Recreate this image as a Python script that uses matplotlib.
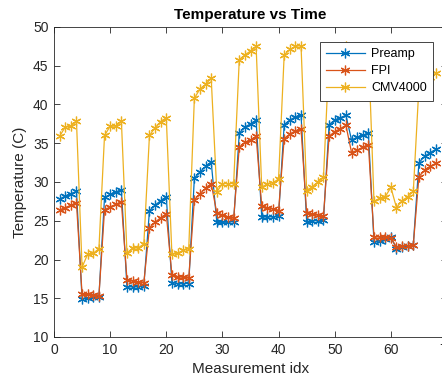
import matplotlib.pyplot as plt

plt.rcParams['font.family'] = ['Liberation Sans', 'DejaVu Sans']

# measurement index 1..68
idx = list(range(1, 69))

preamp = [27.8, 28.2, 28.5, 28.8, 14.9, 15.0, 15.1, 15.2, 28.0, 28.4, 28.7, 29.0,
          16.4, 16.5, 16.5, 16.6, 26.3, 27.0, 27.6, 28.1, 17.0, 16.9, 16.9, 16.9,
          30.5, 31.3, 32.0, 32.6, 24.8, 24.8, 24.8, 24.9, 36.3, 37.1, 37.5, 38.0,
          25.5, 25.5, 25.5, 25.6, 37.4, 38.0, 38.4, 38.7, 24.9, 25.0, 25.0, 25.1,
          37.4, 38.0, 38.3, 38.6, 35.4, 35.8, 36.0, 36.3, 22.2, 22.4, 22.7, 22.9,
          21.4, 21.6, 21.7, 21.9, 32.5, 33.3, 33.8, 34.2]

fpi = [26.4, 26.7, 27.0, 27.3, 15.5, 15.5, 15.4, 15.3, 26.4, 26.8, 27.1, 27.4,
       17.4, 17.2, 17.1, 17.0, 24.1, 24.8, 25.4, 25.9, 18.0, 17.8, 17.7, 17.6,
       27.7, 28.5, 29.2, 29.8, 26.0, 25.7, 25.5, 25.3, 34.5, 35.1, 35.4, 35.9,
       26.9, 26.7, 26.5, 26.3, 35.6, 36.2, 36.6, 36.9, 26.0, 25.9, 25.7, 25.6,
       35.9, 36.5, 36.9, 37.3, 33.8, 34.1, 34.5, 34.8, 22.9, 22.9, 22.9, 22.8,
       21.6, 21.7, 21.8, 21.9, 30.7, 31.5, 32.0, 32.4]

cmv4000 = [35.9, 37.1, 37.2, 37.9, 19.0, 20.7, 20.8, 21.4, 36.0, 37.2, 37.2, 37.9,
           20.8, 21.5, 21.5, 22.0, 36.0, 37.0, 37.8, 38.3, 20.7, 20.8, 21.2, 21.4,
           40.8, 42.0, 42.6, 43.4, 28.7, 29.8, 29.8, 29.8, 45.8, 46.4, 46.9, 47.5,
           29.3, 29.8, 29.9, 30.4, 46.4, 47.1, 47.5, 47.6, 28.9, 29.4, 30.0, 30.6,
           46.3, 46.9, 47.3, 47.6, 46.0, 46.5, 46.9, 47.2, 27.5, 27.9, 28.1, 29.3,
           26.7, 27.6, 28.1, 28.8, 42.3, 43.0, 43.6, 44.0]

names = ['Preamp', 'FPI', 'CMV4000']
colors = ['#0072BD', '#D95319', '#EDB120']

fig = plt.figure(figsize=(4.42, 3.83), dpi=100)
# axes runs a bit past the right edge, like the cropped original
ax = fig.add_axes([54 / 442, 46 / 383, 393 / 442, 310 / 383])

for ys, name, c in zip([preamp, fpi, cmv4000], names, colors):
    ax.plot(idx, ys, color=c, linewidth=0.9, marker=(6, 2, 0),
            markersize=7, markeredgewidth=0.9, label=name)

ax.set_xlim(0, 70)
ax.set_ylim(10, 50)
ax.set_xticks(range(0, 71, 10))
ax.set_yticks(range(10, 51, 5))

dark = '#262626'
for s in ax.spines.values():
    s.set_color(dark)
    s.set_linewidth(0.6)
ax.tick_params(direction='in', top=True, right=True, length=4, width=0.6,
               colors=dark, labelsize=10, pad=4)

ax.set_title('Temperature vs Time', fontsize=11, fontweight='bold', pad=6)
ax.set_xlabel('Measurement idx', fontsize=11, color=dark)
ax.set_ylabel('Temperature (C)', fontsize=11, color=dark)

leg = ax.legend(loc='upper right', bbox_to_anchor=(433 / 442, 1 - 42 / 383),
                bbox_transform=fig.transFigure, borderaxespad=0, fontsize=9,
                fancybox=False, framealpha=1, edgecolor=dark,
                handlelength=3.1, handletextpad=0.5, borderpad=0.5,
                labelspacing=0.4)
leg.get_frame().set_linewidth(0.6)

fig.savefig('out.png', dpi=100)
